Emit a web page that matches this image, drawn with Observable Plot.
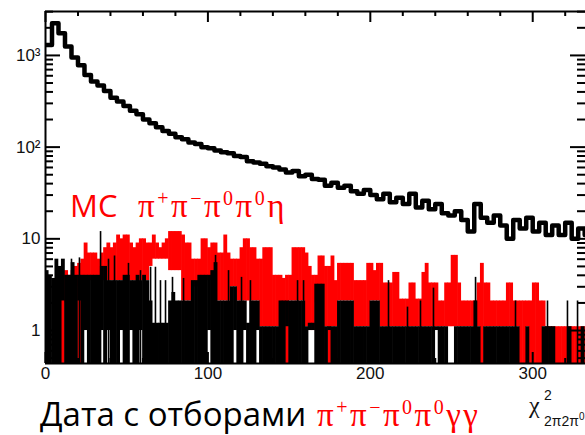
<!DOCTYPE html>
<html><head><meta charset="utf-8">
<script src="https://cdn.jsdelivr.net/npm/d3@7"></script>
<script src="https://cdn.jsdelivr.net/npm/@observablehq/plot@0.6"></script>
<style>html,body{margin:0;padding:0;background:#fff}#chart svg{display:block}</style>
</head><body><div id="chart"></div>
<script>
// ---- data ----
const mainBinWidth = 4;
const mainCounts = [1300, 2250, 1750, 1250, 950, 780, 610, 520, 470, 410,
  345, 315, 280, 250, 228, 200, 182, 165, 150, 140,
  128, 122, 112, 108, 100, 97, 92, 88, 86, 80,
  78, 70, 68, 66, 62, 60, 57, 53, 55, 48,
  50, 45, 44, 38, 41, 36, 38, 33, 31, 34,
  30, 27, 31, 25, 28, 24, 31, 22, 26, 21,
  24, 19, 18, 20, 16, 12, 24, 17, 15, 18,
  14, 10, 16, 13, 17, 12, 15, 11, 14, 11,
  15, 10, 13, 11];

const binWidth = 2;
const mcHi = [0,0,0,0,0,2.2,4.5,4,4.5,5,
  5.4,6,9,7,7,7,6,7,8,9,
  8,9,11,10,11,11,9,8,9,10,
  10,9,9,11,9,8,9,10,12,12,
  12,12,11,9,9,6,6,6,10,10,
  8,9,9,7,7,11,7,6,6,6,
  8,10,10,8,8,6,6,8,8,8,
  4,4,4,3.7,4,4,8,8,8,8,
  7,5,4,4,6.5,6.5,5,5,6.5,3.5,
  5.4,5.4,5.4,5.4,5.4,3.5,3.5,3.5,3.5,5.4,
  5.4,4.5,5.4,5.4,3.3,3.3,3.3,4.3,4.3,2.2,
  2.2,2.2,3.3,3.3,2.2,2.2,4.3,5.4,3.3,3.3,
  3.3,2.1,2.1,3.3,3.3,6.6,6.6,3.3,2.1,2.1,
  2.1,2.1,2.1,3.3,5.4,3.3,3.3,2.1,2.1,2.1,
  2.1,2.1,3.3,3.3,2.1,2.1,2.1,2.1,2.1,2.1,
  3.3,3.3,2.1,2.1,1.1,1.1,1.1,1.1,1.1,1.1,
  1.1,1.1,1.1,1.1,1.1,1.1,1.1];
const mcLo = [0,0,0,0,0,0,2,2,3,3,
  0,3.5,3.5,3.5,3.5,3.5,3.5,3.5,3.5,3.5,
  3.5,3.5,3.5,3.5,3.5,3.5,3.5,3.5,3.5,3.5,
  3.5,3.5,5,6,6,6,6,6,4.5,4.5,
  4.5,4.5,2.1,2.1,2.1,3,3,3,3.5,3.5,
  3.5,3.5,3.5,2.1,2.1,2.1,2.1,3,3,2.1,
  2.1,2.1,2.1,2.1,2.1,2.1,1.1,1.1,1.1,1.1,
  1.1,1.1,1.5,1.5,0,2.1,2.1,2.1,2.1,2.1,
  1.1,1,1,2,3,3,1.1,0,1.1,1.1,
  2.1,2.1,2.1,2.1,2.1,1.1,1.1,1.1,1.1,1.1,
  2.1,2.1,2.1,1.1,1.1,1.1,1.1,1.1,1.1,1.1,
  1.1,1.1,1.1,1.1,1.1,1.1,1.1,1.1,1.1,1.1,
  1.1,1.1,1.1,1.1,1.1,1.1,1.1,1.1,1.1,1.1,
  1.1,1.1,1.1,1.1,0,1.1,1.1,1.1,1.1,1.1,
  1.1,1.1,1.1,1.1,1.1,1.1,0,0,1.1,0,
  0,0,0,1.1,0,0,0,0,0,0,
  0,0,0,0,0,0,0];
const dataHi = [4.5,4,3.7,6,5,6,4,4,5.5,4,
  4,4,4,4,4,4,4,5,5,3.5,
  3.5,3.5,3.5,3.5,4,4,3.5,3.5,4,3.5,
  4,3.5,2.1,1.2,1.2,1.2,1.2,1.2,2.1,2.6,
  2.1,2.1,2.1,2.1,2.1,3.5,3.5,4,4,4,
  4,4.5,5.5,2.1,2.1,2.1,2.1,3,3,2.1,
  2.1,2.1,1.2,2.1,2.1,2.1,1.1,1.1,1.1,1.1,
  1.1,1.1,2.1,2.1,2.1,2.1,2.1,2.1,2.1,2.1,
  1.1,1.2,1.2,3.2,3.2,3.2,1.1,1.1,1.1,1.1,
  2.1,2.1,2.1,2.1,2.1,1.1,1.1,1.1,1.1,1.1,
  2.1,2.1,2.1,1.1,1.1,1.1,1.1,1.1,1.1,1.1,
  1.1,1.1,1.1,1.1,1.1,1.1,1.1,1.1,1.1,1.1,
  1.1,1.1,1.1,1.1,0,0,1.1,1.1,1.1,1.1,
  1.1,1.1,2.1,1.1,0,1.1,1.1,1.1,1.1,1.1,
  1.1,1.1,1.1,1.1,1.1,1.1,0,0,1.1,0,
  0,0,0,1.1,1.1,1.1,1.1,0,0,0,
  0,1.1,0,0,0,1.1,0];
const dataLo = [0,0,0,0,0,2.1,0,0,0,0,
  2.1,0,1,0,0,0,0,1,0,1,
  0,0,0,1,0,0,1,0,0,1,
  0,0,0,0,0,0,0,0,0,0,
  0,0,0,0,0,0,0,0,0,0,
  1,0,0,0,0,0,0,0,1,0,
  0,1,0,0,0,1,0,0,0,0,
  0,0,0,0,1.1,0,0,0,0,0,
  0,1,1,0,0,0,0,1,0,0,
  0,0,0,0,0,0,0,0,0,0,
  0,0,0,0,0,0,0,0,0,0,
  0,0,0,0,0,0,0,0,0,0,
  1,0,0,0,0,0,0,0,0,0,
  0,0,0,0,0,0,0,0,0,0,
  0,0,0,0,0,0,0,0,0,0,
  0,0,0,0,0,0,0,0,0,0,
  0,0,0,0,0,0,0];
const spikeX = [16.0, 20.9, 33.9, 38.8, 42.5, 51.1, 58.5, 64.7, 67.7, 70.8, 73.9, 78.2, 85.0, 104.7,
  112.7, 120.7, 126.2, 155.2, 158.9, 211.2, 222.9, 230.9, 238.9, 264.8, 289.4, 309.1, 321.4, 327.6];
const spikeY = [6, 6.2, 12, 6, 6.5, 5.4, 4.5, 4.9, 4.9, 3.5, 3.5, 3.8, 3.7, 6.6,
  4.5, 3.8, 3.5, 3.5, 3.5, 3.5, 1.8, 2.1, 2.9, 3.8, 2.1, 2.1, 2.1, 2.1];

const xTicksMajor = [0, 100, 200, 300];
const xTickLabels = ["0", "100", "200", "300"];
const xTicksMinor = [20, 40, 60, 80, 120, 140, 160, 180, 220, 240, 260, 280, 320];
const yTicksMajor = [1, 10, 100, 1000];
const yTickLabels = ["1", "10", "10\u00B2", "10\u00B3"];
const yTicksMinor = [0.5, 0.6, 0.7, 0.8, 0.9, 2, 3, 4, 5, 6, 7, 8, 9,
  20, 30, 40, 50, 60, 70, 80, 90, 200, 300, 400, 500, 600, 700, 800, 900, 2000, 3000];

// ---- layout ----
const FLOOR = 0.437, YMAX = 3013, XMAX = 332.5;
const RED = "#ff0000";
const mainPts = mainCounts.map((v, i) => ({x: i * mainBinWidth, y: v}));
mainPts.push({x: mainCounts.length * mainBinWidth, y: mainCounts[mainCounts.length - 1]});
const bins = d3.range(mcHi.length);
const spikes = d3.range(spikeX.length);

const svgNode = Plot.plot({
  width: 585, height: 435,
  marginLeft: 45, marginTop: 11, marginBottom: 72, marginRight: 0,
  style: {fontFamily: "Liberation Sans, Arial, sans-serif", background: "#fff", overflow: "visible"},
  x: {domain: [0, XMAX], axis: null},
  y: {type: "log", domain: [FLOOR, YMAX], axis: null},
  marks: [
    Plot.rect(bins.filter(i => mcHi[i] > 0), {
      x1: i => i * binWidth, x2: i => (i + 1) * binWidth,
      y1: i => Math.max(mcLo[i], FLOOR), y2: i => mcHi[i],
      fill: RED, insetLeft: -0.3, insetRight: -0.3, clip: true
    }),
    Plot.rect(bins.filter(i => dataHi[i] > 0), {
      x1: i => i * binWidth, x2: i => (i + 1) * binWidth,
      y1: i => Math.max(dataLo[i], FLOOR), y2: i => dataHi[i],
      fill: "#000", insetLeft: -0.3, insetRight: -0.3, clip: true
    }),
    Plot.ruleX(spikes, {x: i => spikeX[i], y1: FLOOR, y2: i => spikeY[i], stroke: "#000", strokeWidth: 1.6, clip: true}),
    Plot.line(mainPts, {x: "x", y: "y", curve: "step-after", stroke: "#000", strokeWidth: 4.5, clip: true}),
    // frame
    Plot.ruleX([0], {stroke: "#000", strokeWidth: 2}),
    Plot.ruleY([YMAX], {stroke: "#000", strokeWidth: 2}),
    Plot.ruleY([FLOOR], {stroke: "#000", strokeWidth: 2}),
    // inward ticks
    Plot.ruleX(xTicksMajor, {x: d => d, y1: FLOOR, y2: FLOOR, insetBottom: 11, strokeWidth: 2}),
    Plot.ruleX(xTicksMinor, {x: d => d, y1: FLOOR, y2: FLOOR, insetBottom: 5, strokeWidth: 2}),
    Plot.ruleX(xTicksMajor, {x: d => d, y1: YMAX, y2: YMAX, insetTop: 11, strokeWidth: 2}),
    Plot.ruleX(xTicksMinor, {x: d => d, y1: YMAX, y2: YMAX, insetTop: 5, strokeWidth: 2}),
    Plot.ruleY(yTicksMajor, {y: d => d, x1: 0, x2: 0, insetLeft: 15, strokeWidth: 2}),
    Plot.ruleY(yTicksMinor, {y: d => d, x1: 0, x2: 0, insetLeft: 8, strokeWidth: 2}),
    Plot.ruleY(yTicksMajor, {y: d => d, x1: XMAX, x2: XMAX, insetRight: 15, strokeWidth: 2}),
    Plot.ruleY(yTicksMinor, {y: d => d, x1: XMAX, x2: XMAX, insetRight: 8, strokeWidth: 2}),
    // tick labels
    Plot.text(xTicksMajor, {x: d => d, text: (d, i) => xTickLabels[i], frameAnchor: "bottom", dy: 15, fontSize: 17, fill: "#111"}),
    Plot.text(yTicksMajor, {y: d => d, text: (d, i) => yTickLabels[i], frameAnchor: "left", dx: -5, textAnchor: "end", fontSize: 17, fill: "#111"})
  ]
});
document.getElementById("chart").appendChild(svgNode);

// ---- annotations ----
const svg = d3.select(svgNode);
const serif = "Liberation Serif, Times New Roman, serif";
const sans = "Open Sans, Liberation Sans, sans-serif";
function addText(x, y, color) {
  return svg.append("text").attr("x", x).attr("y", y).attr("fill", color).attr("text-anchor", "start");
}
function greek(sel, parts, size, supSize, lift) {
  let raised = false;
  sel.style("letter-spacing", "2.5px");
  parts.forEach(([base, sup]) => {
    const b = sel.append("tspan").style("font-family", serif).style("font-size", size + "px").text(base);
    if (raised) { b.attr("dy", lift); raised = false; }
    if (sup) {
      sel.append("tspan").style("font-family", serif).style("font-size", supSize + "px").attr("dy", -lift).text(sup);
      raised = true;
    }
  });
}
addText(70, 217, RED).style("font-family", sans).style("font-size", "31px").text("MC");
greek(addText(138, 217, RED), [["\u03C0", "+"], ["\u03C0", "\u2212"], ["\u03C0", "0"], ["\u03C0", "0"], ["\u03B7", null]], 33, 20, 12);

addText(40, 426, "#000").style("font-family", sans).style("font-size", "33px").text("Дата с отборами");
greek(addText(317, 426, RED), [["\u03C0", "+"], ["\u03C0", "\u2212"], ["\u03C0", "0"], ["\u03C0", "0"], ["\u03B3", null], ["\u03B3", null]], 33, 20, 12);

addText(529, 413, "#111").style("font-family", serif).style("font-size", "24px").text("\u03C7");
addText(544, 400, "#111").style("font-family", "Liberation Sans, sans-serif").style("font-size", "14px").text("2");
const sub = addText(544, 426, "#111").style("font-family", "Liberation Sans, sans-serif").style("font-size", "14px");
sub.append("tspan").text("2\u03C02\u03C0");
sub.append("tspan").attr("dy", -6).style("font-size", "10px").text("0");
</script>
</body></html>
